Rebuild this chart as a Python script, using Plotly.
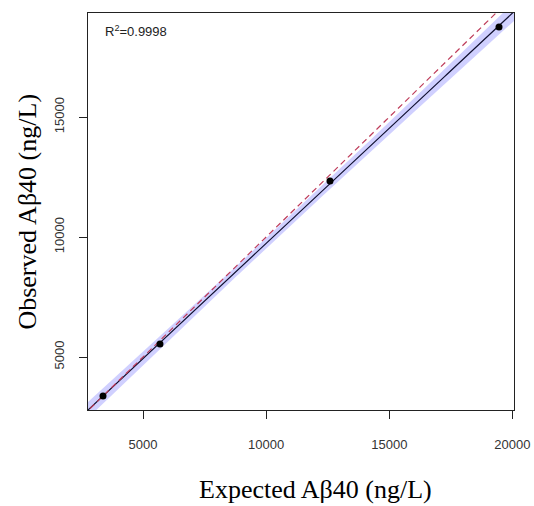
import numpy as np
import plotly.graph_objects as go

# Data
expected = [3376, 5690, 12592, 19454]
observed = [3375, 5540, 12333, 18750]
x_ticks = [5000, 10000, 15000, 20000]
x_tick_labels = ["5000", "10000", "15000", "20000"]
y_ticks = [5000, 10000, 15000]
y_tick_labels = ["5000", "10000", "15000"]
r2_label = "R<sup>2</sup>=0.9998"
x_title = "Expected Aβ40 (ng/L)"
y_title = "Observed Aβ40 (ng/L)"
x_range = [2767, 20063]
y_range = [2792, 19333]

x = np.array(expected, float)
y = np.array(observed, float)
n = len(x)
slope, intercept = np.polyfit(x, y, 1)
resid = y - (slope * x + intercept)
s = np.sqrt(np.sum(resid ** 2) / (n - 2))
sxx = np.sum((x - x.mean()) ** 2)
t_crit = 4.303  # t(0.975, df=2)

xg = np.linspace(x_range[0] - 500, x_range[1] + 500, 200)
yfit = slope * xg + intercept
se = s * np.sqrt(1.0 / n + (xg - x.mean()) ** 2 / sxx)
lo = yfit - t_crit * se
hi = yfit + t_crit * se

fig = go.Figure()
fig.add_trace(go.Scatter(x=xg, y=lo, mode="lines", line=dict(width=0),
                         showlegend=False, hoverinfo="skip"))
fig.add_trace(go.Scatter(x=xg, y=hi, mode="lines", line=dict(width=0),
                         fill="tonexty", fillcolor="rgba(110,110,255,0.32)",
                         showlegend=False, hoverinfo="skip"))
fig.add_trace(go.Scatter(x=xg, y=yfit, mode="lines",
                         line=dict(color="#101030", width=1.2), showlegend=False))
fig.add_trace(go.Scatter(x=xg, y=xg, mode="lines",
                         line=dict(color="rgb(190,60,90)", width=1.2, dash="6px,4px"),
                         showlegend=False))
fig.add_trace(go.Scatter(x=expected, y=observed, mode="markers",
                         marker=dict(color="black", size=7), showlegend=False))

axis_common = dict(showgrid=False, zeroline=False, showline=True, mirror=True,
                   automargin=False,
                   linecolor="#222", linewidth=1, ticks="outside", ticklen=8,
                   tickcolor="#222",
                   tickfont=dict(family="Liberation Sans, Arial", size=13, color="#333"))
fig.update_xaxes(range=x_range, tickvals=x_ticks, ticktext=x_tick_labels,
                 ticklabelstandoff=14, **axis_common)
fig.update_yaxes(range=y_range, tickvals=y_ticks, ticktext=y_tick_labels,
                 tickangle=-90, ticklabelstandoff=10, **axis_common)

fig.add_annotation(x=0.035, y=0.955, xref="paper", yref="paper", text=r2_label,
                   showarrow=False, xanchor="left", yanchor="middle",
                   font=dict(family="Liberation Sans, Arial", size=13, color="#222"))
fig.add_annotation(x=0.533, y=-0.2015, xref="paper", yref="paper", text=x_title,
                   showarrow=False, xanchor="center", yanchor="middle",
                   font=dict(family="Liberation Serif, Times New Roman", size=26, color="black"))
fig.add_annotation(x=-0.143, y=0.5, xref="paper", yref="paper", text=y_title,
                   showarrow=False, xanchor="center", yanchor="middle", textangle=-90,
                   font=dict(family="Liberation Serif, Times New Roman", size=26, color="black"))

fig.update_layout(width=534, height=506, margin=dict(l=88, r=20, t=13, b=96),
                  plot_bgcolor="white", paper_bgcolor="white")
fig.write_html("out.html",
               config={"displayModeBar": False},
               post_script="document.body.style.margin='0';document.body.style.overflow='hidden';")
